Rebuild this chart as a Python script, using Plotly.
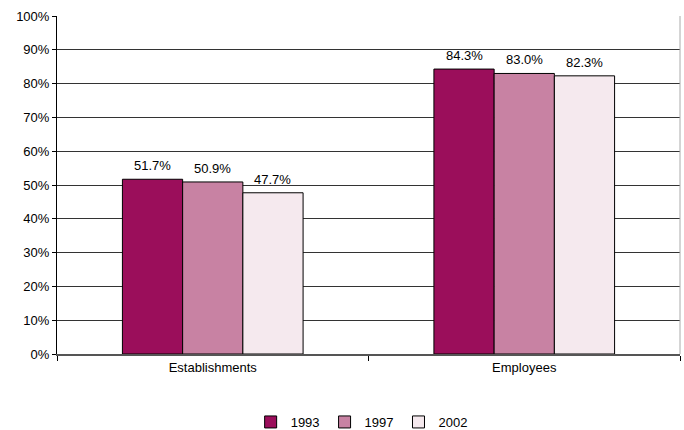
import plotly.graph_objects as go

categories = ["Establishments", "Employees"]
years = ["1993", "1997", "2002"]
values_1993 = [51.7, 84.3]
values_1997 = [50.9, 83.0]
values_2002 = [47.7, 82.3]
y_ticks = list(range(0, 101, 10))

colors = ["#9b0e5b", "#c882a3", "#f5e9ee"]
series = list(zip(years, [values_1993, values_1997, values_2002], colors))

FONT = "Arial, Liberation Sans, sans-serif"
BARGAP = 0.42
bar_w = (1 - BARGAP) / len(series)

fig = go.Figure()
for i, (name, vals, color) in enumerate(series):
    fig.add_trace(go.Bar(
        name=name,
        x=categories,
        y=vals,
        marker=dict(color=color, line=dict(color="#000000", width=1)),
    ))
    # value labels above each bar
    offset = (i - (len(series) - 1) / 2) * bar_w
    for ci, v in enumerate(vals):
        fig.add_annotation(
            x=ci + offset, y=v, xref="x", yref="y",
            text=f"{v:.1f}%", showarrow=False,
            yanchor="bottom", yshift=4,
            font=dict(family=FONT, size=13, color="#000000"),
        )

fig.update_layout(
    width=684,
    height=430,
    margin=dict(l=57, r=4, t=16, b=76),
    paper_bgcolor="white",
    plot_bgcolor="white",
    barmode="group",
    bargap=BARGAP,
    bargroupgap=0,
    font=dict(family=FONT, size=13, color="#000000"),
    showlegend=True,
    legend=dict(
        orientation="h",
        x=0.489,
        xanchor="center",
        xref="paper",
        yref="container",
        y=8 / 430,
        yanchor="middle",
        font=dict(size=13),
        itemwidth=30,
    ),
    xaxis=dict(
        type="category",
        tickson="boundaries",
        ticks="outside",
        ticklen=5,
        tickcolor="#000000",
        showline=True,
        linecolor="#555555",
        linewidth=2,
        showgrid=False,
    ),
    yaxis=dict(
        range=[0, 100],
        tickvals=y_ticks,
        ticktext=[f"{t}%" for t in y_ticks],
        ticks="outside",
        ticklen=4,
        tickcolor="#000000",
        showline=True,
        linecolor="#000000",
        linewidth=1,
        showgrid=True,
        gridcolor="#333333",
        gridwidth=1,
        zeroline=False,
    ),
)

fig.add_shape(type="line", xref="paper", yref="paper", x0=1, x1=1, y0=0, y1=1,
              line=dict(color="#aaaaaa", width=1))

fig.write_html("out.html")
